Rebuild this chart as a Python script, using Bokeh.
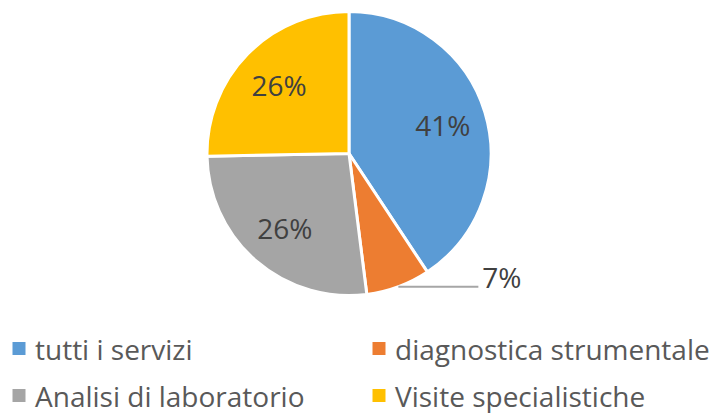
import math
from bokeh.plotting import figure
from bokeh.models import Range1d, ColumnDataSource
from bokeh.core.properties import value
from bokeh.embed import file_html
from bokeh.resources import INLINE

categories = ["tutti i servizi", "diagnostica strumentale", "Analisi di laboratorio", "Visite specialistiche"]
shares = [40.7, 7.3, 26.7, 25.3]
labels = ["41%", "7%", "26%", "26%"]
colors = ["#5B9BD5", "#ED7D31", "#A5A5A5", "#FFC000"]

W, H = 715, 413
p = figure(width=W, height=H, output_backend="svg", toolbar_location=None,
           x_range=Range1d(0, W), y_range=Range1d(0, H),
           min_border=0, outline_line_color=None)
p.axis.visible = False
p.grid.visible = False
p.background_fill_color = "white"
p.border_fill_color = "white"

cx, cy, R = 348.5, 413 - 153, 142
total = sum(shares)
starts, ends, mids = [], [], []
acc = 0.0
for s in shares:
    a0 = math.pi / 2 - acc / total * 2 * math.pi
    acc += s
    a1 = math.pi / 2 - acc / total * 2 * math.pi
    starts.append(a0)
    ends.append(a1)
    mids.append((a0 + a1) / 2)

src = ColumnDataSource(dict(start=starts, end=ends, color=colors))
p.wedge(x=cx, y=cy, radius=R, start_angle="start", end_angle="end", direction="clock",
        fill_color="color", line_color="white", line_width=3, source=src)

font = value("Open Sans")
# inside labels
lx, ly, lt = [], [], []
for i, m in enumerate(mids):
    if shares[i] < 10:
        continue
    lx.append(cx + 98 * math.cos(m))
    ly.append(cy + 98 * math.sin(m))
    lt.append(labels[i])
p.text(x=lx, y=ly, text=lt, text_font=font, text_font_size="28px",
       text_color="#404040", text_align="center", text_baseline="middle")

# small slice: outside label with leader line
for i, m in enumerate(mids):
    if shares[i] >= 10:
        continue
    x0 = cx + R * math.cos(m)
    y0 = cy + R * math.sin(m)
    x1 = x0 + 80
    p.line(x=[x0, x1], y=[y0, y0], line_color="#A6A6A6", line_width=2)
    p.text(x=[x1 + 4], y=[y0 + 10], text=[labels[i]], text_font=font, text_font_size="28px",
           text_color="#404040", text_align="left", text_baseline="middle")

# legend
col_x = [18.5, 378.5]
row_y = [413 - 348, 413 - 395]
mx, my, tx, ty = [], [], [], []
for i, c in enumerate(categories):
    r, k = divmod(i, 2)
    mx.append(col_x[k]); my.append(row_y[r])
    tx.append(col_x[k] + 16); ty.append(row_y[r])
p.scatter(x=mx, y=my, marker="square", size=13, fill_color=colors, line_color=None)
p.text(x=tx, y=ty, text=categories, text_font=font, text_font_size="28px",
       text_color="#595959", text_align="left", text_baseline="middle")

open("out.html", "w").write(file_html(p, INLINE))
